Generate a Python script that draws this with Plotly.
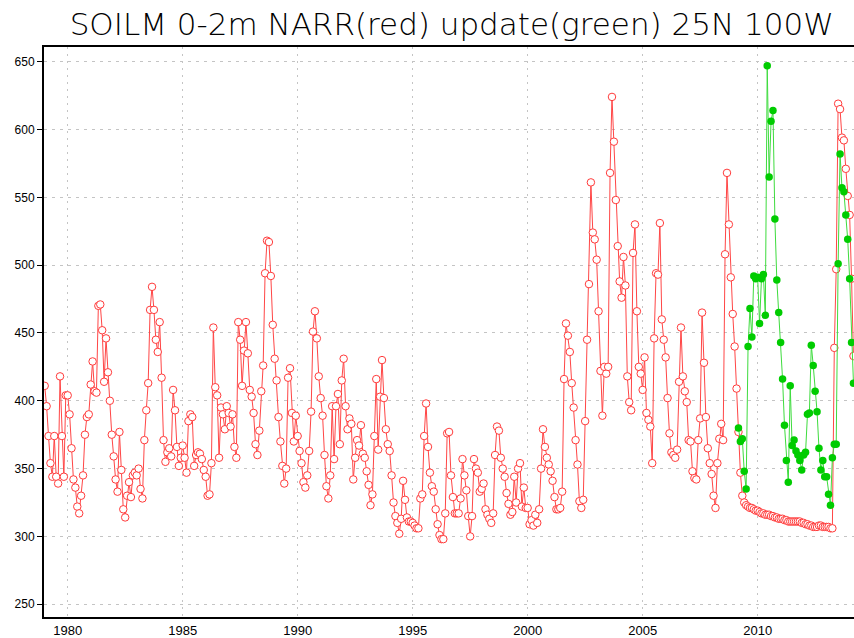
import plotly.graph_objects as go

# ---- data (monthly, starting Jan 1979) ----
start_year = 1979
narr_1979 = [411, 396, 374, 354, 344, 374, 344, 339, 418, 374, 344, 404]
narr_1980 = [404, 390, 365, 342, 336, 322, 317, 330, 345, 375, 388, 390]
narr_1981 = [412, 429, 407, 406, 470, 471, 452, 414, 446, 421, 400, 375]
narr_1982 = [359, 342, 333, 377, 349, 320, 314, 330, 340, 329, 345, 347]
narr_1983 = [345, 350, 335, 328, 371, 393, 413, 467, 484, 467, 445, 436]
narr_1984 = [458, 417, 371, 355, 362, 365, 359, 408, 393, 366, 352, 358]
narr_1985 = [367, 358, 347, 385, 390, 388, 352, 360, 362, 361, 357, 349]
narr_1986 = [344, 330, 331, 354, 454, 410, 404, 358, 395, 390, 379, 396]
narr_1987 = [391, 381, 390, 366, 358, 458, 445, 411, 437, 458, 435, 408]
narr_1988 = [403, 391, 368, 360, 378, 407, 426, 494, 518, 517, 492, 456]
narr_1989 = [431, 415, 388, 370, 352, 339, 350, 417, 424, 391, 370, 389]
narr_1990 = [374, 363, 354, 340, 336, 345, 363, 392, 451, 466, 446, 418]
narr_1991 = [402, 389, 360, 337, 328, 345, 396, 357, 396, 405, 368, 415]
narr_1992 = [431, 396, 379, 387, 383, 342, 358, 371, 367, 382, 361, 358]
narr_1993 = [348, 338, 323, 331, 374, 416, 364, 403, 430, 402, 379, 368]
narr_1994 = [363, 345, 325, 315, 310, 302, 313, 341, 327, 314, 311, 311]
narr_1995 = [310, 308, 306, 306, 328, 331, 374, 398, 366, 347, 337, 333]
narr_1996 = [320, 309, 301, 298, 298, 317, 376, 377, 345, 329, 317, 317]
narr_1997 = [317, 328, 357, 345, 334, 315, 300, 315, 357, 350, 347, 333]
narr_1998 = [335, 339, 320, 316, 313, 310, 317, 360, 381, 378, 358, 350]
narr_1999 = [344, 332, 324, 316, 318, 344, 325, 350, 354, 322, 336, 321]
narr_2000 = [321, 309, 312, 308, 316, 310, 320, 350, 379, 366, 358, 353]
narr_2001 = [348, 341, 329, 320, 320, 321, 333, 416, 457, 448, 436, 413]
narr_2002 = [395, 371, 353, 326, 321, 327, 385, 445, 486, 561, 524, 519]
narr_2003 = [504, 466, 422, 389, 425, 420, 425, 568, 624, 591, 548, 514]
narr_2004 = [488, 476, 506, 485, 418, 399, 393, 509, 530, 466, 425, 420]
narr_2005 = [408, 432, 391, 386, 381, 354, 446, 494, 493, 531, 460, 445]
narr_2006 = [432, 402, 376, 362, 360, 358, 364, 414, 454, 418, 407, 399]
narr_2007 = [371, 370, 348, 343, 342, 371, 387, 465, 428, 388, 365, 354]
narr_2008 = [346, 330, 321, 354, 372, 383, 371, 508, 568, 530, 491, 464]
narr_2009 = [440, 409, 377, 347, 330, 325, 323, 322, 321, 321, 320, 319]
narr_2010 = [319, 318, 317, 317, 316, 316, 316, 315, 315, 314, 314, 313]
narr_2011 = [313, 313, 312, 312, 311, 311, 311, 311, 311, 311, 311, 310]
narr_2012 = [310, 309, 309, 308, 308, 307, 307, 307, 308, 308, 307, 307]
narr_2013 = [307, 307, 306, 306, 439, 497, 619, 615, 594, 592, 571, 551]
narr_2014 = [537, 490, 433]

# update series starts March 2009
update_start = (2009, 3)
update_vals = [380, 370, 372, 348, 335, 440, 468, 447, 492, 490,
               491, 457, 490, 493, 463, 647, 565, 606, 614, 534, 489, 465,
               443, 416, 382, 356, 340, 411, 367, 371, 363, 360, 356, 349,
               360, 362, 390, 391, 441, 426, 407, 392, 365, 349, 356, 344,
               344, 331, 323, 358, 368, 368, 501, 582, 557, 554, 537, 519,
               490, 443, 413]

x_tick_vals = [1980, 1985, 1990, 1995, 2000, 2005, 2010]
x_tick_text = ["1980", "1985", "1990", "1995", "2000", "2005", "2010"]
y_tick_vals = [250, 300, 350, 400, 450, 500, 550, 600, 650]
y_tick_text = ["250", "300", "350", "400", "450", "500", "550", "600", "650"]

title_text = "SOILM 0-2m NARR(red) update(green) 25N 100W"

# ---- build series ----
narr = (narr_1979 + narr_1980 + narr_1981 + narr_1982 + narr_1983 + narr_1984 +
        narr_1985 + narr_1986 + narr_1987 + narr_1988 + narr_1989 + narr_1990 +
        narr_1991 + narr_1992 + narr_1993 + narr_1994 + narr_1995 + narr_1996 +
        narr_1997 + narr_1998 + narr_1999 + narr_2000 + narr_2001 + narr_2002 +
        narr_2003 + narr_2004 + narr_2005 + narr_2006 + narr_2007 + narr_2008 +
        narr_2009 + narr_2010 + narr_2011 + narr_2012 + narr_2013 + narr_2014)
narr_t = [start_year + i / 12 for i in range(len(narr))]
u0 = update_start[0] + (update_start[1] - 1) / 12
update_t = [u0 + i / 12 for i in range(len(update_vals))]

fig = go.Figure()
fig.add_trace(go.Scatter(
    x=narr_t, y=narr, mode="lines+markers",
    line=dict(color="#FF4646", width=1),
    marker=dict(symbol="circle", size=7.5, color="white",
                line=dict(color="#FF3A3A", width=1)),
    showlegend=False))
fig.add_trace(go.Scatter(
    x=update_t, y=update_vals, mode="lines+markers",
    line=dict(color="#3EDC3E", width=1),
    marker=dict(symbol="circle", size=7.5, color="#00CC00",
                line=dict(color="#00CC00", width=0)),
    showlegend=False))

fig.update_layout(
    width=854, height=638,
    margin=dict(l=44, r=0, t=47, b=21),
    paper_bgcolor="white", plot_bgcolor="white",
    font=dict(family="Liberation Sans, Arial, sans-serif", size=12, color="black"),
    title=dict(text=title_text, x=0.529, xanchor="center", y=0.962, yanchor="middle",
               font=dict(family="DejaVu Sans", size=31, color="black", weight=200)),
)
fig.update_xaxes(
    range=[1978.97, 2014.19], tickmode="array", tickvals=x_tick_vals, ticktext=x_tick_text,
    showline=True, linecolor="black", linewidth=2, mirror=True,
    ticks="", showgrid=True, gridcolor="#C4C4C4", gridwidth=1, griddash="2px,5px",
    zeroline=False, tickfont=dict(size=13))
fig.update_yaxes(
    range=[240.6, 660.8], tickmode="array", tickvals=y_tick_vals, ticktext=y_tick_text,
    showline=True, linecolor="black", linewidth=2,
    ticks="outside", ticklen=5, tickcolor="black",
    showgrid=True, gridcolor="#C4C4C4", gridwidth=1, griddash="3px,5px",
    zeroline=False, tickfont=dict(size=12))

fig.write_html("out.html", config={"displayModeBar": False},
               post_script="document.body.style.margin='0px';document.body.style.overflow='hidden';")
